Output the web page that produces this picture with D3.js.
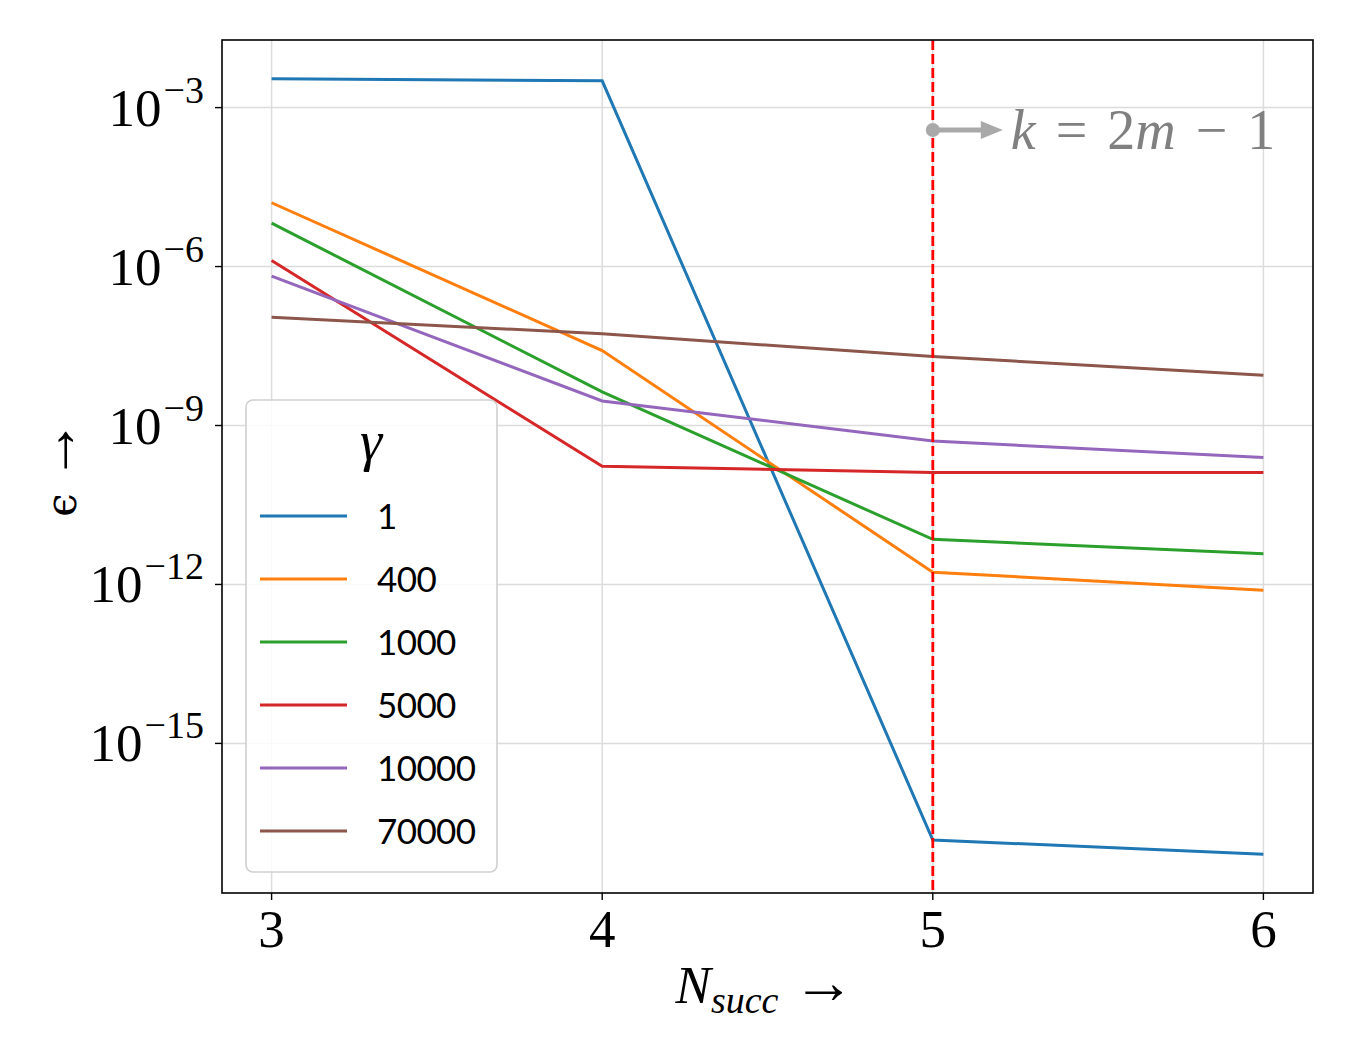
<!DOCTYPE html>
<html>
<head>
<meta charset="utf-8">
<script src="https://cdn.jsdelivr.net/npm/d3@7"></script>
<style>
  body { margin: 0; background: #fff; }
  .tick-label { font-family: "Liberation Serif", "DejaVu Serif", serif; fill: #000; }
  .legend-text { font-family: "Lato", "DejaVu Sans", sans-serif; font-size: 35px; fill: #000; }
</style>
</head>
<body>
<div id="chart"></div>
<script>
// values
var nSucc = [3, 4, 5, 6];
var gammas = ["1", "400", "1000", "5000", "10000", "70000"];
var eps1 = [3.5e-3, 3.2e-3, 1.5e-17, 8.1e-18];
var eps400 = [1.6e-5, 2.6e-8, 1.7e-12, 7.8e-13];
var eps1000 = [6.6e-6, 4.3e-9, 7.1e-12, 3.8e-12];
var eps5000 = [1.3e-6, 1.7e-10, 1.3e-10, 1.3e-10];
var eps10000 = [6.6e-7, 2.9e-9, 5.1e-10, 2.5e-10];
var eps70000 = [1.1e-7, 5.4e-8, 2.0e-8, 8.9e-9];
var colors = ["#1f77b4", "#ff7f0e", "#2ca02c", "#d62728", "#9467bd", "#8c564b"];
var yTicks = [-3, -6, -9, -12, -15];
var markerN = 5;

var series = [eps1, eps400, eps1000, eps5000, eps10000, eps70000];

var W = 1350, H = 1051;
var pLeft = 222, pRight = 1313, pTop = 40, pBottom = 893;

var svg = d3.select("#chart").append("svg")
  .attr("width", W).attr("height", H);

// matplotlib style 5% margins
var allVals = d3.merge(series);
var lmin = Math.log10(d3.min(allVals)), lmax = Math.log10(d3.max(allVals));
var lpad = (lmax - lmin) * 0.05;
var x = d3.scaleLinear().domain([2.85, 6.15]).range([pLeft, pRight]);
var y = d3.scaleLog().domain([Math.pow(10, lmin - lpad), Math.pow(10, lmax + lpad)]).range([pBottom, pTop]);

// grid
svg.selectAll(".gx").data(nSucc).enter().append("line")
  .attr("x1", d => x(d)).attr("x2", d => x(d))
  .attr("y1", pTop).attr("y2", pBottom)
  .attr("stroke", "#dcdcdc").attr("stroke-width", 1.5);
svg.selectAll(".gy").data(yTicks).enter().append("line")
  .attr("x1", pLeft).attr("x2", pRight)
  .attr("y1", d => y(Math.pow(10, d))).attr("y2", d => y(Math.pow(10, d)))
  .attr("stroke", "#dcdcdc").attr("stroke-width", 1.5);

// series lines
var line = d3.line().x((d, i) => x(nSucc[i])).y(d => y(d));
series.forEach(function(s, k) {
  svg.append("path").datum(s)
    .attr("d", line)
    .attr("fill", "none")
    .attr("stroke", colors[k])
    .attr("stroke-width", 3);
});

// dashed marker at N=5
svg.append("line")
  .attr("x1", x(markerN)).attr("x2", x(markerN))
  .attr("y1", pTop).attr("y2", pBottom)
  .attr("stroke", "#ff0000").attr("stroke-width", 2.8)
  .attr("stroke-dasharray", "10,4");

// annotation
var ay = 130;
svg.append("line")
  .attr("x1", x(markerN)).attr("x2", x(markerN) + 52)
  .attr("y1", ay).attr("y2", ay)
  .attr("stroke", "#a9a9a9").attr("stroke-width", 5);
svg.append("path")
  .attr("d", "M" + (x(markerN) + 48) + "," + (ay - 9) + " L" + (x(markerN) + 70) + "," + ay + " L" + (x(markerN) + 48) + "," + (ay + 9) + "Z")
  .attr("fill", "#a9a9a9");
svg.append("circle")
  .attr("cx", x(markerN)).attr("cy", ay).attr("r", 7)
  .attr("fill", "#a9a9a9");
var ann = svg.append("text")
  .attr("x", x(markerN) + 78).attr("y", ay + 19)
  .attr("class", "tick-label")
  .style("font-size", "56px").style("fill", "#808080");
ann.append("tspan").style("font-style", "italic").text("k");
ann.append("tspan").attr("dx", 20).text("=");
ann.append("tspan").attr("dx", 20).text("2");
ann.append("tspan").style("font-style", "italic").text("m");
ann.append("tspan").attr("dx", 20).text("\u2212");
ann.append("tspan").attr("dx", 20).text("1");

// frame
svg.append("rect")
  .attr("x", pLeft).attr("y", pTop)
  .attr("width", pRight - pLeft).attr("height", pBottom - pTop)
  .attr("fill", "none").attr("stroke", "#000").attr("stroke-width", 1.6);

// ticks
svg.selectAll(".tx").data(nSucc).enter().append("line")
  .attr("x1", d => x(d)).attr("x2", d => x(d))
  .attr("y1", pBottom).attr("y2", pBottom + 7)
  .attr("stroke", "#000").attr("stroke-width", 1.4);
svg.selectAll(".lx").data(nSucc).enter().append("text")
  .attr("class", "tick-label")
  .attr("x", d => x(d)).attr("y", pBottom + 54)
  .attr("text-anchor", "middle")
  .style("font-size", "53px")
  .text(d => d);

svg.selectAll(".ty").data(yTicks).enter().append("line")
  .attr("x1", pLeft - 7).attr("x2", pLeft)
  .attr("y1", d => y(Math.pow(10, d))).attr("y2", d => y(Math.pow(10, d)))
  .attr("stroke", "#000").attr("stroke-width", 1.4);
yTicks.forEach(function(t) {
  var ty = y(Math.pow(10, t));
  var lab = svg.append("text")
    .attr("class", "tick-label")
    .attr("x", 204).attr("y", ty + 18)
    .attr("text-anchor", "end")
    .style("font-size", "53px");
  lab.append("tspan").text("10");
  lab.append("tspan").attr("dy", -23).attr("dx", 2).style("font-size", "38px").text("\u2212" + Math.abs(t));
});

// axis titles
var xl = svg.append("text")
  .attr("class", "tick-label")
  .attr("x", 765).attr("y", 1003)
  .attr("text-anchor", "middle")
  .style("font-size", "53px");
xl.append("tspan").style("font-style", "italic").text("N");
xl.append("tspan").attr("dy", 10).style("font-style", "italic").style("font-size", "38px").text("succ");
xl.append("tspan").attr("dy", -10).attr("dx", 14).style("font-size", "62px").text("\u2192");

var yl = svg.append("text")
  .attr("class", "tick-label")
  .attr("transform", "translate(76,468) rotate(-90)")
  .attr("text-anchor", "middle")
  .style("font-size", "53px");
yl.append("tspan").style("font-family", "DejaVu Serif").style("font-size", "42px").text("\u03F5");
yl.append("tspan").attr("dx", 12).style("font-size", "62px").text("\u2192");

// legend
var lg = svg.append("g");
lg.append("rect")
  .attr("x", 246).attr("y", 400).attr("width", 251).attr("height", 472)
  .attr("rx", 7).attr("fill", "#fff").attr("fill-opacity", 0.85)
  .attr("stroke", "#d0d0d0").attr("stroke-width", 1.6);
lg.append("text")
  .attr("class", "tick-label")
  .attr("x", 371).attr("y", 460)
  .attr("text-anchor", "middle")
  .style("font-size", "56px").style("font-style", "italic")
  .text("\u03B3");
gammas.forEach(function(g, i) {
  var ly = 516 + i * 63;
  lg.append("line")
    .attr("x1", 260).attr("x2", 347)
    .attr("y1", ly).attr("y2", ly)
    .attr("stroke", colors[i]).attr("stroke-width", 3);
  lg.append("text")
    .attr("class", "legend-text")
    .attr("x", 377).attr("y", ly + 13)
    .style("letter-spacing", "-0.6px")
    .text(g);
});
</script>
</body>
</html>
